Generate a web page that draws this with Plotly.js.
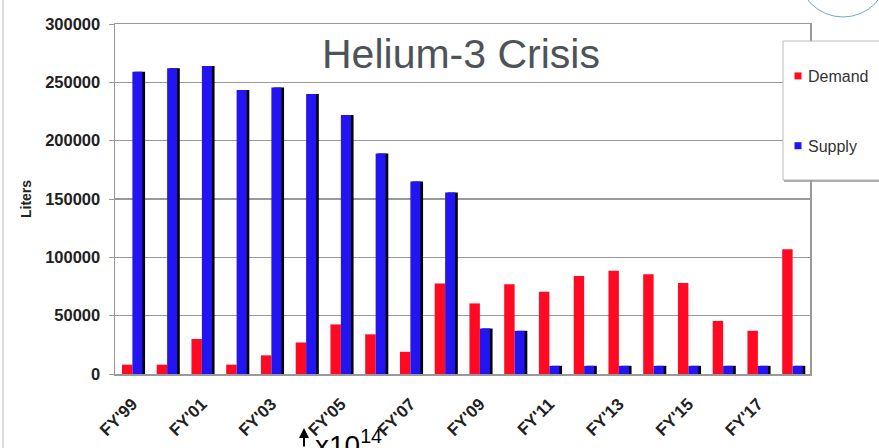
<!DOCTYPE html>
<html>
<head>
<meta charset="utf-8">
<script src="https://cdn.plot.ly/plotly-3.0.1.min.js"></script>
<style>html,body{margin:0;padding:0;background:#fff;}#chart{width:879px;height:448px;}</style>
</head>
<body>
<div id="chart"></div>
<script>
const years = ["FY'99","FY'00","FY'01","FY'02","FY'03","FY'04","FY'05","FY'06","FY'07","FY'08",
               "FY'09","FY'10","FY'11","FY'12","FY'13","FY'14","FY'15","FY'16","FY'17","FY'18"];
const demand = [8000, 8000, 30000, 8000, 16000, 27000, 42500, 34000, 19000, 77500,
                60500, 77000, 70500, 84000, 88500, 85500, 78000, 45500, 37000, 107000];
const supply = [259000, 262000, 264000, 243500, 245500, 240000, 222000, 189000, 165000, 155500,
                39000, 37000, 7000, 7000, 7000, 7000, 7000, 7000, 7000, 7000];
const tickLabels = ["FY'99","FY'01","FY'03","FY'05","FY'07","FY'09","FY'11","FY'13","FY'15","FY'17"];
const yTicks = [0, 50000, 100000, 150000, 200000, 250000, 300000];

const W = 879, H = 448, L = 115, R = 69, T = 24, B = 74;
const pw = W - L - R, ph = H - T - B;
const px = x => (x - L) / pw;
const py = y => (H - B - y) / ph;

const traces = [
  {type:'bar', name:'Demand', x:years, y:demand, width:0.3, offset:-0.3,
   marker:{color:'#ff0a22'}, legendgroup:'d', hoverinfo:'x+y'},
  {type:'bar', name:'shadow', x:years, y:supply, width:0.3, offset:0.065,
   marker:{color:'#000000'}, showlegend:false, hoverinfo:'skip'},
  {type:'bar', name:'Supply', x:years, y:supply, width:0.29, offset:0,
   marker:{color:'#2314f2'}, legendgroup:'s', hoverinfo:'x+y'}
];

const layout = {
  width:W, height:H,
  margin:{l:L, r:R, t:T, b:B, autoexpand:false},
  paper_bgcolor:'#ffffff', plot_bgcolor:'#ffffff',
  barmode:'overlay',
  font:{family:'Liberation Sans, Arial, sans-serif', color:'#222'},
  xaxis:{type:'category', categoryorder:'array', categoryarray:years, range:[-0.5,19.5],
         tickmode:'array', tickvals:tickLabels, ticktext:tickLabels, tickangle:-45,
         showgrid:false, showline:true, linecolor:'#999', linewidth:1.5, mirror:true,
         ticks:'', ticklabelstandoff:12,
         tickfont:{size:17, color:'#222', family:'Liberation Sans, Arial, sans-serif', weight:'bold'}},
  yaxis:{range:[0,300000], tickmode:'array', tickvals:yTicks, ticktext:yTicks.map(String),
         showgrid:true, gridcolor:'#999', gridwidth:1.5,
         showline:true, linecolor:'#999', linewidth:1.5, mirror:true,
         ticks:'outside', ticklen:5, tickcolor:'#999', ticklabelstandoff:5,
         zeroline:false,
         tickfont:{size:16.5, color:'#222', weight:'bold'},
         title:{text:'Liters', font:{size:14, color:'#222', weight:'bold'}, standoff:10}},
  showlegend:true,
  legend:{x:px(768), y:py(59), xanchor:'left', yanchor:'top', bgcolor:'rgba(0,0,0,0)',
          borderwidth:0, traceorder:'grouped', tracegroupgap:46, itemwidth:30,
          font:{size:16, color:'#333'}},
  shapes:[
    {type:'rect', xref:'paper', yref:'paper', x0:px(783), x1:px(885), y0:py(180), y1:py(41),
     fillcolor:'#ffffff', line:{color:'#bbbbbb', width:1}, layer:'above'},
    {type:'line', xref:'paper', yref:'paper', x0:px(784), x1:px(885), y0:py(181), y1:py(181),
     line:{color:'#999999', width:1.5}, layer:'above'},
    {type:'line', xref:'paper', yref:'paper', x0:px(3), x1:px(3), y0:py(448), y1:py(0),
     line:{color:'#d0d0d0', width:1.5}},
    {type:'circle', xref:'paper', yref:'paper', x0:px(798), x1:px(888), y0:py(17), y1:py(-73),
     line:{color:'#6aaad8', width:1}}
  ],
  annotations:[
    {text:'Helium-3 Crisis', xref:'paper', yref:'paper', x:px(461), y:py(54),
     xanchor:'center', yanchor:'middle', showarrow:false,
     font:{size:41, color:'#4d5459', family:'Liberation Sans, Arial, sans-serif'}},
    {text:'x10<sup>14</sup>', xref:'paper', yref:'paper', x:px(313), y:py(423),
     xanchor:'left', yanchor:'top', showarrow:false,
     font:{size:28, color:'#000', family:'Liberation Sans, Arial, sans-serif'}},
    {text:'', xref:'paper', yref:'paper', x:px(304), y:py(428), showarrow:true,
     ax:0, ay:28, arrowhead:2, arrowsize:1, arrowwidth:2, arrowcolor:'#000', standoff:0}
  ]
};

Plotly.newPlot('chart', traces, layout, {staticPlot:true, displayModeBar:false}).then(() => {
  document.querySelectorAll('.legend .legendpoints path').forEach(p => {
    p.setAttribute('d', 'M13.5,3.5H6.5V-3.5H13.5Z');
  });
});
</script>
</body>
</html>
